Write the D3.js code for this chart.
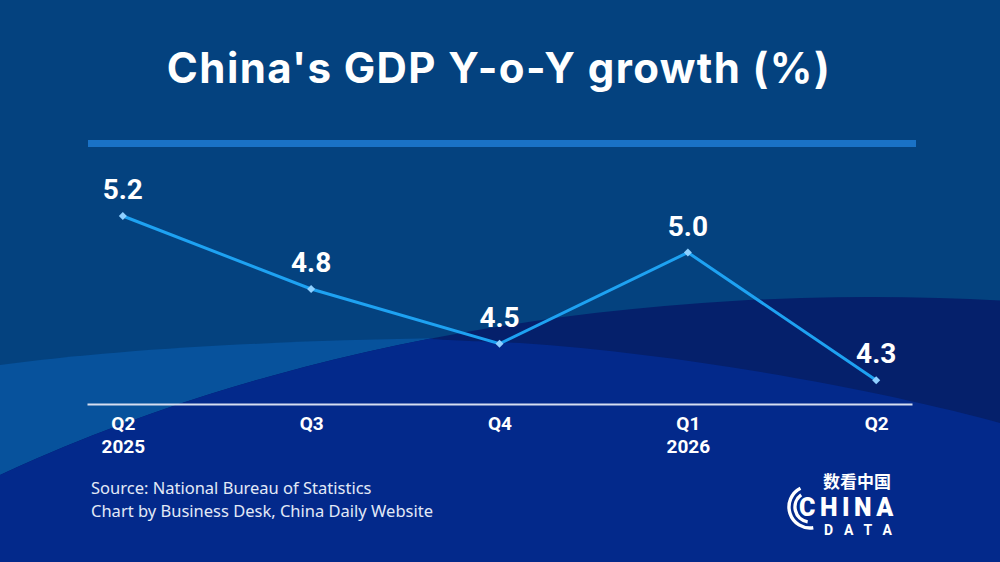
<!DOCTYPE html>
<html>
<head>
<meta charset="utf-8">
<script src="https://cdn.jsdelivr.net/npm/d3@7"></script>
<style>
  html, body { margin: 0; padding: 0; background: #04427f; }
  svg { display: block; }
</style>
</head>
<body>
<div id="chart"></div>
<script>
// GDP growth, year on year (%)
const periods = ['Q2 2025', 'Q3 2025', 'Q4 2025', 'Q1 2026', 'Q2 2026'];
const growth = [5.2, 4.8, 4.5, 5.0, 4.3];
const quarterLabels = ['Q2', 'Q3', 'Q4', 'Q1', 'Q2'];
const yearLabels = ['2025', '', '', '2026', ''];

const width = 1000;
const height = 562;

const svg = d3.select('#chart').append('svg')
  .attr('width', width)
  .attr('height', height);

// background shapes
svg.append('rect')
  .attr('width', width).attr('height', height)
  .attr('fill', '#04427f');

svg.append('path')
  .attr('d', 'M0,365 C150,345 350,337 600,337 L600,562 L0,562 Z')
  .attr('fill', '#07529c');

svg.append('ellipse')
  .attr('cx', 870).attr('cy', 1119)
  .attr('rx', 1400).attr('ry', 822)
  .attr('fill', '#05206b');

svg.append('defs').append('clipPath')
  .attr('id', 'leftClip')
  .append('rect')
  .attr('x', 0).attr('y', 0)
  .attr('width', 432).attr('height', height);

svg.append('ellipse')
  .attr('cx', 870).attr('cy', 1119)
  .attr('rx', 1400).attr('ry', 822)
  .attr('clip-path', 'url(#leftClip)')
  .attr('fill', '#03298b');

svg.append('path')
  .attr('d', 'M430,339 C470,341 490,342 520,343 C700,355 900,395 1000,423 L1000,562 L430,562 Z')
  .attr('fill', '#03298b');

// title
svg.append('text')
  .attr('x', 499)
  .attr('y', 83)
  .attr('text-anchor', 'middle')
  .attr('fill', '#ffffff')
  .style('font-family', 'Inter, "Open Sans", sans-serif')
  .style('font-weight', 700)
  .style('font-size', '42px')
  .style('letter-spacing', '1.4px')
  .text("China's GDP Y-o-Y growth (%)");

svg.append('rect')
  .attr('x', 88).attr('y', 140)
  .attr('width', 828).attr('height', 7)
  .attr('fill', '#1a72c6');

const x = d3.scalePoint()
  .domain(periods)
  .range([87, 912])
  .padding(0.19);

const y = d3.scaleLinear()
  .domain([4.2, 5.2])
  .range([398.5, 216]);

// x axis
const xAxis = svg.append('g')
  .attr('transform', 'translate(0,404)')
  .call(d3.axisBottom(x).tickSize(0).tickSizeOuter(0).tickFormat(''));
xAxis.select('.domain')
  .attr('stroke', '#d6def0')
  .attr('stroke-width', 2);

xAxis.selectAll('.tick text').remove();
xAxis.selectAll('.tick').each(function(d, i) {
  const t = d3.select(this).append('text')
    .attr('text-anchor', 'middle')
    .attr('fill', '#ffffff')
    .style('font-family', 'Roboto, sans-serif')
    .style('font-weight', 700)
    .style('font-size', '19px');
  t.append('tspan').attr('x', 0).attr('y', 26).text(quarterLabels[i]);
  if (yearLabels[i]) t.append('tspan').attr('x', 0).attr('y', 49).text(yearLabels[i]);
});

// line
const line = d3.line()
  .x((d, i) => x(periods[i]))
  .y(d => y(d));

svg.append('path')
  .datum(growth)
  .attr('fill', 'none')
  .attr('stroke', '#1ea2f2')
  .attr('stroke-width', 3)
  .attr('d', line);

svg.selectAll('.marker')
  .data(growth)
  .enter().append('path')
  .attr('class', 'marker')
  .attr('d', d3.symbol().type(d3.symbolSquare).size(32))
  .attr('transform', (d, i) => `translate(${x(periods[i])},${y(d)}) rotate(45)`)
  .attr('fill', '#8fd0ff');

svg.selectAll('.val')
  .data(growth)
  .enter().append('text')
  .attr('class', 'val')
  .attr('x', (d, i) => x(periods[i]))
  .attr('y', d => y(d) - 17)
  .attr('text-anchor', 'middle')
  .attr('fill', '#ffffff')
  .style('font-family', 'Roboto, sans-serif')
  .style('font-weight', 700)
  .style('font-size', '28px')
  .text(d => d.toFixed(1));

// source notes
const notes = svg.append('g')
  .attr('fill', '#e2e9f7')
  .style('font-family', '"Noto Sans", sans-serif')
  .style('font-size', '16.5px');
notes.append('text').attr('x', 91).attr('y', 494).text('Source: National Bureau of Statistics');
notes.append('text').attr('x', 91).attr('y', 517).text('Chart by Business Desk, China Daily Website');

// logo
const logo = svg.append('g').attr('fill', '#ffffff');
logo.append('text')
  .attr('x', 823).attr('y', 488)
  .style('font-family', '"Noto Sans CJK SC", sans-serif')
  .style('font-weight', 700)
  .style('font-size', '17px')
  .text('数看中国');
logo.append('text')
  .attr('x', 799).attr('y', 516)
  .style('font-family', 'Roboto, sans-serif')
  .style('font-weight', 900)
  .style('font-size', '25px')
  .style('letter-spacing', '4.5px')
  .text('CHINA');
logo.append('text')
  .attr('x', 824).attr('y', 535)
  .style('font-family', 'Roboto, sans-serif')
  .style('font-weight', 700)
  .style('font-size', '14px')
  .style('letter-spacing', '11px')
  .text('DATA');

const arcGen = d3.arc();
[[15, -0.2, -0.95], [21, -0.15, -1.05]].forEach(([r, a0, a1]) => {
  logo.append('path')
    .attr('transform', 'translate(810,507)')
    .attr('d', arcGen({ innerRadius: r - 1.7, outerRadius: r + 1.7, startAngle: Math.PI * a0, endAngle: Math.PI * a1 }))
    .attr('fill', '#ffffff');
});
</script>
</body>
</html>
